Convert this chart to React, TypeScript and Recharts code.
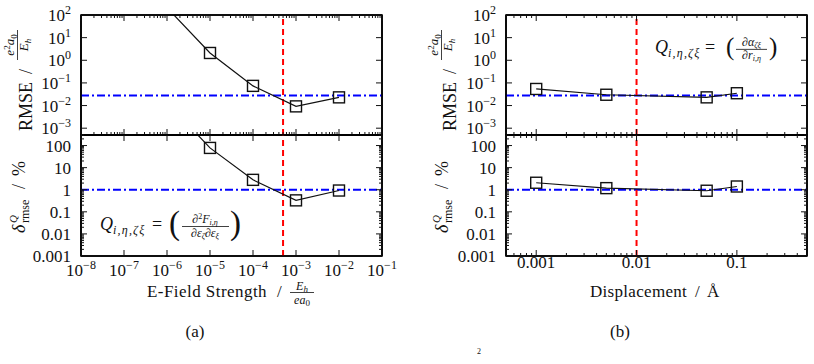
import React from 'react';
import { LineChart, Line, XAxis, YAxis, ReferenceLine, ReferenceArea } from 'recharts';

const FONT = '"Liberation Serif", "Times New Roman", "DejaVu Serif", "Noto Serif", serif';
const INK = '#111111';

// (a) finite electric-field step sizes and resulting errors
const fieldSteps = [1e-6, 1e-5, 1e-4, 1e-3, 1e-2];
const fieldRmse = [210, 2.1, 0.074, 0.0092, 0.023];
const fieldRelErr = [9000, 78, 2.8, 0.33, 0.92];

// (b) nuclear displacements and resulting errors
const displacements = [0.001, 0.005, 0.05, 0.1];
const dispRmse = [0.054, 0.03, 0.023, 0.035];
const dispRelErr = [2.07, 1.18, 0.9, 1.4];

// thresholds and chosen step sizes
const rmseThreshold = 0.0275;
const relErrThreshold = 1;
const chosenField = 5e-4;
const chosenDisp = 0.01;

// axis ranges
const fieldDomain: [number, number] = [1e-8, 1e-1];
const dispDomain: [number, number] = [5e-4, 0.5];
const rmseDomain: [number, number] = [5e-4, 100];
const relDomain: [number, number] = [0.001, 300];

// major ticks and their labels
const fieldMajor = [1e-8, 1e-7, 1e-6, 1e-5, 1e-4, 1e-3, 1e-2, 1e-1];
const fieldExp = ['−8', '−7', '−6', '−5', '−4', '−3', '−2', '−1'];
const dispMajor = [0.001, 0.01, 0.1];
const dispLabels = ['0.001', '0.01', '0.1'];
const rmseMajor = [100, 10, 1, 0.1, 0.01, 0.001];
const rmseExp = ['2', '1', '0', '−1', '−2', '−3'];
const relMajor = [100, 10, 1, 0.1, 0.01, 0.001];
const relLabels = ['100', '10', '1', '0.1', '0.01', '0.001'];

type Pt = { x: number; y: number };
const pairs = (xs: number[], ys: number[]): Pt[] => xs.map((x, i) => ({ x, y: ys[i] }));

function logMinors(lo: number, hi: number): number[] {
  const out: number[] = [];
  for (let k = Math.floor(Math.log10(lo)); k <= Math.ceil(Math.log10(hi)); k++) {
    for (let m = 2; m <= 9; m++) {
      const v = m * Math.pow(10, k);
      if (v >= lo * (1 - 1e-9) && v <= hi * (1 + 1e-9)) out.push(v);
    }
  }
  return out;
}

const sameValue = (a: number, b: number) => Math.abs(Math.log10(a) - Math.log10(b)) < 1e-6;

const power = (e: string) => (
  <>
    10<tspan dy={-7} fontSize={12}>{e}</tspan>
  </>
);

const textStyle: React.CSSProperties = { fontFamily: FONT, fill: INK };

type Side = 'left' | 'right' | 'top' | 'bottom';

function axisTick(side: Side, majors: number[], labels: React.ReactNode[] | null, labelOffset = 0) {
  return (props: any) => {
    const { payload, index } = props;
    const x = Number(props.x);
    const y = Number(props.y);
    const v = Number(payload.value);
    const i = majors.findIndex((m) => sameValue(m, v));
    const len = i >= 0 ? 6 : 3;
    // tick marks point into the plot
    let mark: React.ReactNode;
    if (side === 'left') mark = <rect x={x} y={y - 0.5} width={len} height={1} style={{ fill: INK }} />;
    else if (side === 'right') mark = <rect x={x - len} y={y - 0.5} width={len} height={1} style={{ fill: INK }} />;
    else if (side === 'top') mark = <rect x={x - 0.5} y={y} width={1} height={len} style={{ fill: INK }} />;
    else mark = <rect x={x - 0.5} y={y - len} width={1} height={len} style={{ fill: INK }} />;
    let label: React.ReactNode = null;
    if (labels && i >= 0) {
      if (side === 'left') {
        label = (
          <text x={x - 10} y={y + 6} textAnchor="end" fontSize={17} style={textStyle}>
            {labels[i]}
          </text>
        );
      } else if (side === 'bottom') {
        label = (
          <text x={x} y={y + labelOffset} textAnchor="middle" fontSize={17} style={textStyle}>
            {labels[i]}
          </text>
        );
      }
    }
    return (
      <g key={`tick-${side}-${index}`}>
        {mark}
        {label}
      </g>
    );
  };
}

function squareDot(domain: [number, number]) {
  return (props: any) => {
    const { cx, cy, payload, index } = props;
    const v = payload?.y;
    if (v == null || v > domain[1] || v < domain[0]) return <g key={`dot-${index}`} />;
    return (
      <rect
        key={`dot-${index}`}
        x={cx - 5.5}
        y={cy - 5.5}
        width={11}
        height={11}
        fill="none"
        stroke={INK}
        strokeWidth={1.4}
      />
    );
  };
}

interface PanelProps {
  left: number;
  top: number;
  width: number;
  height: number;
  plot: { x0: number; x1: number; y0: number; y1: number };
  data: Pt[];
  xDomain: [number, number];
  yDomain: [number, number];
  xMajors: number[];
  xTopMinor: boolean;
  xBottomMinor: boolean;
  xLabels: React.ReactNode[] | null;
  xLabelOffset: number;
  yMajors: number[];
  yMinor: boolean;
  yLabels: React.ReactNode[];
  vLine: number;
  hLine: number;
  children?: React.ReactNode;
}

const frameLine = { stroke: '#000', strokeWidth: 1.6 };

function Panel(p: PanelProps) {
  const bottomAxisHeight = p.top + p.height - p.plot.y1;
  const margin = {
    top: p.plot.y0 - p.top - 1,
    bottom: 0,
    left: 0,
    right: p.left + p.width - p.plot.x1 - 1,
  };
  const xMinors = logMinors(p.xDomain[0], p.xDomain[1]);
  const yMinors = logMinors(p.yDomain[0], p.yDomain[1]);
  const xTop = p.xTopMinor ? [...p.xMajors, ...xMinors] : p.xMajors;
  const xBottom = p.xBottomMinor ? [...p.xMajors, ...xMinors] : p.xMajors;
  const yTicks = p.yMinor ? [...p.yMajors, ...yMinors] : p.yMajors;
  const common = {
    type: 'number' as const,
    scale: 'log' as const,
    allowDataOverflow: true,
    interval: 0 as const,
    tickSize: 0,
    tickMargin: 0,
    tickLine: false,
    axisLine: frameLine,
    stroke: '#000',
  };
  return (
    <div style={{ position: 'absolute', left: p.left, top: p.top, width: p.width, height: p.height }}>
      <LineChart width={p.width} height={p.height} data={p.data} margin={margin}>
        <ReferenceLine y={p.hLine} stroke="#0000ff" strokeWidth={2} strokeDasharray="8 3 2 3" />
        <ReferenceLine x={p.vLine} stroke="#ff0000" strokeWidth={2} strokeDasharray="6 4" />
        <Line
          dataKey="y"
          type="linear"
          stroke={INK}
          strokeWidth={1.2}
          dot={squareDot(p.yDomain)}
          activeDot={false}
          isAnimationActive={false}
        />
        <ReferenceArea
          x1={p.xDomain[0]}
          x2={p.xDomain[1]}
          y1={p.yDomain[0]}
          y2={p.yDomain[1]}
          fill="none"
          fillOpacity={0}
          stroke="#000"
          strokeOpacity={1}
          strokeWidth={1.6}
          ifOverflow="visible"
        />
        <XAxis
          {...common}
          dataKey="x"
          domain={p.xDomain}
          ticks={xBottom}
          height={bottomAxisHeight}
          tick={axisTick('bottom', p.xMajors, p.xLabels, p.xLabelOffset)}
        />
        <XAxis
          {...common}
          xAxisId="top"
          orientation="top"
          dataKey="x"
          domain={p.xDomain}
          ticks={xTop}
          height={1}
          tick={axisTick('top', p.xMajors, null)}
        />
        <YAxis
          {...common}
          domain={p.yDomain}
          ticks={yTicks}
          width={p.plot.x0 - p.left}
          tick={axisTick('left', p.yMajors, p.yLabels)}
        />
        <YAxis
          {...common}
          yAxisId="right"
          orientation="right"
          domain={p.yDomain}
          ticks={yTicks}
          width={1}
          tick={axisTick('right', p.yMajors, null)}
        />
        <g transform={`translate(${-p.left},${-p.top})`}>{p.children}</g>
      </LineChart>
    </div>
  );
}

// thin horizontal rule used for fraction bars
const Rule = ({ x1, x2, y }: { x1: number; x2: number; y: number }) => (
  <rect x={x1} y={y - 0.4} width={x2 - x1} height={0.8} style={{ fill: INK }} />
);

// RMSE / e²a₀/E_h, rotated
function RmseLabel({ x, y }: { x: number; y: number }) {
  return (
    <g transform={`translate(${x},${y}) rotate(-90)`}>
      <text x={0} y={0} fontSize={18} style={textStyle}>RMSE</text>
      <text x={57} y={0} fontSize={18} style={textStyle}>/</text>
      <Rule x1={71} x2={101} y={-14.5} />
      <text x={86} y={-18} fontSize={13} fontStyle="italic" textAnchor="middle" style={textStyle}>
        e<tspan dy={-4.5} fontSize={9} fontStyle="normal">2</tspan>
        <tspan dy={4.5}>a</tspan>
        <tspan dy={2.5} fontSize={9} fontStyle="normal">0</tspan>
      </text>
      <text x={86} y={-4} fontSize={13} fontStyle="italic" textAnchor="middle" style={textStyle}>
        E<tspan dy={2.5} fontSize={9}>h</tspan>
      </text>
    </g>
  );
}

// δ^Q_rmse / %, rotated
function RelLabel({ x, y }: { x: number; y: number }) {
  return (
    <g transform={`translate(${x},${y}) rotate(-90)`}>
      <text x={0} y={0} fontSize={18} fontStyle="italic" style={textStyle}>δ</text>
      <text x={10} y={-8} fontSize={11} fontStyle="italic" style={textStyle}>Q</text>
      <text x={10} y={4} fontSize={12} style={textStyle}>rmse</text>
      <text x={44} y={0} fontSize={18} style={textStyle}>/</text>
      <text x={57} y={0} fontSize={18} style={textStyle}>%</text>
    </g>
  );
}

function FieldTitle() {
  return (
    <g>
      <text x={147} y={297} fontSize={17} letterSpacing={0.45} style={textStyle}>E-Field Strength</text>
      <text x={277} y={297} fontSize={17} style={textStyle}>/</text>
      <Rule x1={290} x2={314} y={292.5} />
      <text x={302} y={289.5} fontSize={12} fontStyle="italic" textAnchor="middle" style={textStyle}>
        E<tspan dy={2} fontSize={9}>h</tspan>
      </text>
      <text x={302} y={304} fontSize={12} fontStyle="italic" textAnchor="middle" style={textStyle}>
        ea<tspan dy={2} fontSize={9} fontStyle="normal">0</tspan>
      </text>
      <text x={195} y={337} fontSize={17} textAnchor="middle" style={textStyle}>(a)</text>
    </g>
  );
}

function DispTitle() {
  return (
    <g>
      <text x={590} y={297} fontSize={17} letterSpacing={0.3} style={textStyle}>Displacement</text>
      <text x={695} y={297} fontSize={17} style={textStyle}>/</text>
      <text x={707} y={297} fontSize={17} style={textStyle}>Å</text>
      <text x={620} y={337} fontSize={17} textAnchor="middle" style={textStyle}>(b)</text>
      <text x={477} y={354} fontSize={8} style={textStyle}>2</text>
    </g>
  );
}

// Q = ( ∂²F / ∂ε∂ε )
function FieldFormula() {
  return (
    <g>
      <text x={100} y={230} fontSize={18} fontStyle="italic" style={textStyle}>Q</text>
      <text x={113} y={234} fontSize={12} fontStyle="italic" letterSpacing={1.2} style={textStyle}>i,η,ζξ</text>
      <text x={152} y={230} fontSize={18} style={textStyle}>=</text>
      <text x={169} y={234} fontSize={33} style={textStyle}>(</text>
      <Rule x1={182} x2={229} y={226.5} />
      <text x={205} y={223} fontSize={12} textAnchor="middle" style={textStyle}>
        ∂<tspan dy={-4} fontSize={8}>2</tspan>
        <tspan dy={4} fontStyle="italic">F</tspan>
        <tspan dy={2} fontSize={8} fontStyle="italic">i,η</tspan>
      </text>
      <text x={205} y={236.5} fontSize={12} textAnchor="middle" style={textStyle}>
        ∂<tspan fontStyle="italic">ε</tspan>
        <tspan dy={2} fontSize={8} fontStyle="italic">ζ</tspan>
        <tspan dy={-2}>∂</tspan>
        <tspan fontStyle="italic">ε</tspan>
        <tspan dy={2} fontSize={8} fontStyle="italic">ξ</tspan>
      </text>
      <text x={230} y={234} fontSize={33} style={textStyle}>)</text>
    </g>
  );
}

// Q = ( ∂α / ∂r )
function DispFormula() {
  return (
    <g>
      <text x={655} y={53} fontSize={18} fontStyle="italic" style={textStyle}>Q</text>
      <text x={668} y={57} fontSize={12} fontStyle="italic" letterSpacing={1.2} style={textStyle}>i,η,ζξ</text>
      <text x={705} y={53} fontSize={18} style={textStyle}>=</text>
      <text x={726} y={55} fontSize={25} style={textStyle}>(</text>
      <Rule x1={736} x2={767} y={49.3} />
      <text x={751.5} y={46} fontSize={12} textAnchor="middle" style={textStyle}>
        ∂<tspan fontStyle="italic">α</tspan>
        <tspan dy={2} fontSize={8} fontStyle="italic">ζξ</tspan>
      </text>
      <text x={751.5} y={59} fontSize={12} textAnchor="middle" style={textStyle}>
        ∂<tspan fontStyle="italic">r</tspan>
        <tspan dy={2} fontSize={8} fontStyle="italic">i,η</tspan>
      </text>
      <text x={769} y={55} fontSize={25} style={textStyle}>)</text>
    </g>
  );
}

const rmseLabels = rmseExp.map(power);
const fieldLabels = fieldExp.map(power);

export default function App() {
  return (
    <div
      style={{
        position: 'absolute',
        left: 0,
        top: 0,
        width: 814,
        height: 364,
        background: '#fff',
        overflow: 'hidden',
      }}
    >
      {/* (a) RMSE vs field strength */}
      <Panel
        left={0}
        top={0}
        width={400}
        height={140}
        plot={{ x0: 81, x1: 382, y0: 15, y1: 135 }}
        data={pairs(fieldSteps, fieldRmse)}
        xDomain={fieldDomain}
        yDomain={rmseDomain}
        xMajors={fieldMajor}
        xTopMinor
        xBottomMinor
        xLabels={null}
        xLabelOffset={0}
        yMajors={rmseMajor}
        yMinor={false}
        yLabels={rmseLabels}
        vLine={chosenField}
        hLine={rmseThreshold}
      >
        <RmseLabel x={32} y={131} />
      </Panel>
      {/* (a) relative error vs field strength */}
      <Panel
        left={0}
        top={130}
        width={400}
        height={234}
        plot={{ x0: 81, x1: 382, y0: 135, y1: 256 }}
        data={pairs(fieldSteps, fieldRelErr)}
        xDomain={fieldDomain}
        yDomain={relDomain}
        xMajors={fieldMajor}
        xTopMinor={false}
        xBottomMinor={false}
        xLabels={fieldLabels}
        xLabelOffset={20}
        yMajors={relMajor}
        yMinor
        yLabels={relLabels}
        vLine={chosenField}
        hLine={relErrThreshold}
      >
        <RelLabel x={25} y={233} />
        <FieldFormula />
        <FieldTitle />
      </Panel>
      {/* (b) RMSE vs displacement */}
      <Panel
        left={405}
        top={0}
        width={409}
        height={140}
        plot={{ x0: 506, x1: 807, y0: 15, y1: 135 }}
        data={pairs(displacements, dispRmse)}
        xDomain={dispDomain}
        yDomain={rmseDomain}
        xMajors={dispMajor}
        xTopMinor
        xBottomMinor
        xLabels={null}
        xLabelOffset={0}
        yMajors={rmseMajor}
        yMinor={false}
        yLabels={rmseLabels}
        vLine={chosenDisp}
        hLine={rmseThreshold}
      >
        <RmseLabel x={456} y={131} />
        <DispFormula />
      </Panel>
      {/* (b) relative error vs displacement */}
      <Panel
        left={405}
        top={130}
        width={409}
        height={234}
        plot={{ x0: 506, x1: 807, y0: 135, y1: 256 }}
        data={pairs(displacements, dispRelErr)}
        xDomain={dispDomain}
        yDomain={relDomain}
        xMajors={dispMajor}
        xTopMinor
        xBottomMinor
        xLabels={dispLabels}
        xLabelOffset={12}
        yMajors={relMajor}
        yMinor
        yLabels={relLabels}
        vLine={chosenDisp}
        hLine={relErrThreshold}
      >
        <RelLabel x={448} y={233} />
        <DispTitle />
      </Panel>
    </div>
  );
}
